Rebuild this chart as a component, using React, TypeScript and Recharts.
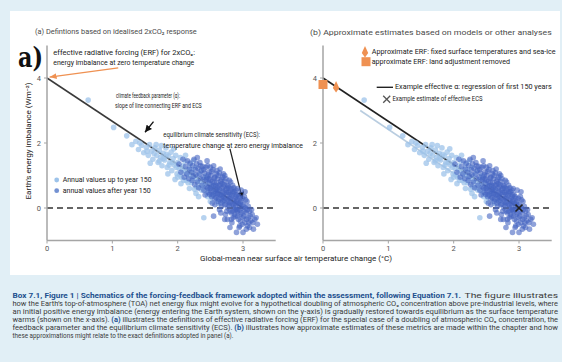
import { ScatterChart, Scatter, XAxis, YAxis, ReferenceLine } from 'recharts';

// tick labels
const xTicks = [0, 1, 2, 3];
const yTicks = [0, 2, 4];

// annual values up to year 150 (x: warming °C, y: imbalance W m-2)
const earlyYears: [number, number][] = [
  [0.63, 3.32], [1.02, 2.48], [1.22, 2.22], [1.3, 1.95], [1.36, 2.05], [1.4, 1.8], [1.45, 1.93],
  [1.48, 1.7], [1.52, 1.86], [1.55, 1.62], [1.57, 1.95], [1.6, 1.75], [1.62, 1.5], [1.65, 1.85],
  [1.68, 1.62], [1.7, 1.4], [1.72, 1.78], [1.74, 1.55], [1.76, 1.3], [1.78, 1.68], [1.8, 1.48],
  [1.82, 1.85], [1.84, 1.25], [1.86, 1.6], [1.88, 1.4], [1.9, 1.72], [1.91, 1.15], [1.93, 1.52],
  [1.95, 1.32], [1.97, 1.62], [1.99, 1.05], [2.0, 1.4], [2.02, 1.22], [2.04, 1.55], [2.06, 0.95],
  [2.08, 1.3], [2.1, 1.12], [2.11, 1.45], [2.13, 0.85], [2.15, 1.2], [2.17, 1.0], [2.19, 1.35],
  [2.21, 0.78], [2.23, 1.1], [2.25, 0.92], [2.27, 1.25], [2.29, 0.65], [2.31, 1.0], [2.33, 0.8],
  [2.35, 1.12], [2.37, 0.55], [2.39, 0.88], [2.41, 0.7], [2.43, 0.98], [2.45, 0.45], [2.47, 0.78],
  [2.49, 0.6], [2.52, 0.35], [2.54, 0.68], [2.57, 0.5], [2.6, 0.25], [2.63, 0.58], [2.66, 0.4],
  [2.7, 0.2], [2.4, -0.3], [1.58, 1.38], [2.05, 0.75], [1.85, 1.05], [1.96, 0.88], [2.18, 0.6],
  [2.28, 0.45], [2.5, 0.2], [2.12, 1.62], [1.94, 1.82], [2.24, 1.45],
  [1.64, 1.68], [1.72, 1.45], [1.78, 1.52], [1.83, 1.65], [1.87, 1.32], [1.92, 1.4], [1.98, 1.25],
  [2.03, 1.02], [2.07, 1.18], [2.09, 0.85], [2.14, 1.05], [2.16, 0.78], [2.2, 1.18], [2.22, 0.95],
  [2.26, 0.58], [2.3, 0.85], [2.34, 0.62], [2.38, 0.72], [2.42, 0.55], [2.46, 0.35], [2.55, 0.42],
  [1.53, 1.75], [1.67, 1.95], [1.75, 1.92], [2.0, 0.95], [2.32, 0.35], [2.62, 0.15], [1.42, 2.0],
];

// annual values after year 150
const laterYears: [number, number][] = [
  [2.02, 1.35], [2.05, 1.1], [2.08, 1.5], [2.1, 0.95], [2.12, 1.28], [2.14, 1.05], [2.15, 1.45],
  [2.17, 0.9], [2.18, 1.2], [2.19, 1.38], [2.21, 1.1], [2.22, 0.85], [2.23, 1.3], [2.24, 0.98],
  [2.25, 1.5], [2.26, 0.72], [2.27, 1.18], [2.28, 1.02], [2.29, 1.36], [2.3, 0.8], [2.31, 1.22],
  [2.32, 0.62], [2.33, 1.05], [2.34, 1.4], [2.35, 0.9], [2.36, 1.15], [2.37, 0.7], [2.38, 1.28],
  [2.39, 0.95], [2.3, 1.55], [2.4, 0.55], [2.41, 1.08], [2.42, 0.82], [2.43, 1.25], [2.44, 0.65],
  [2.45, 0.95], [2.46, 1.3], [2.47, 0.48], [2.48, 1.1], [2.49, 0.75], [2.45, 1.45], [2.42, 0.4],
  [2.48, 0.9], [2.5, 0.6], [2.51, 1.0], [2.52, 0.35], [2.53, 0.82], [2.54, 1.18], [2.55, 0.5],
  [2.56, 0.92], [2.57, 0.28], [2.58, 0.7], [2.59, 1.05], [2.55, 1.3], [2.52, 0.65], [2.58, 0.45],
  [2.53, 0.15], [2.56, 0.78], [2.6, 0.55], [2.61, 0.9], [2.62, 0.2], [2.63, 0.7], [2.64, 1.08],
  [2.65, 0.4], [2.66, 0.82], [2.67, 0.05], [2.68, 0.6], [2.69, 0.95], [2.62, 0.45], [2.65, 1.2],
  [2.67, 0.3], [2.68, 0.75], [2.61, 0.62], [2.64, -0.05], [2.69, 0.5], [2.7, 0.35], [2.71, 0.72],
  [2.72, 0.1], [2.73, 0.55], [2.74, 0.9], [2.75, -0.1], [2.76, 0.42], [2.77, 0.68], [2.78, 0.18],
  [2.79, 0.85], [2.71, 0.25], [2.73, -0.2], [2.75, 0.6], [2.77, 0.0], [2.78, 0.48], [2.72, 1.0],
  [2.76, -0.35], [2.79, 0.3], [2.8, 0.15], [2.81, 0.55], [2.82, -0.15], [2.83, 0.38], [2.84, 0.7],
  [2.85, -0.3], [2.86, 0.22], [2.87, 0.5], [2.88, -0.05], [2.89, 0.35], [2.81, 0.8], [2.83, -0.45],
  [2.85, 0.1], [2.86, 0.62], [2.88, -0.25], [2.84, 0.45], [2.89, 0.05], [2.9, 0.2], [2.91, -0.1],
  [2.92, 0.42], [2.93, -0.35], [2.94, 0.1], [2.95, 0.3], [2.96, -0.2], [2.97, 0.55], [2.98, 0.0],
  [2.99, -0.5], [2.91, 0.6], [2.94, -0.6], [2.96, 0.15], [2.92, -0.08], [3.0, 0.1], [3.01, -0.25],
  [3.02, 0.35], [3.03, -0.45], [3.04, 0.0], [3.05, -0.15], [3.06, 0.2], [3.07, -0.55], [3.08, -0.3],
  [3.03, 0.5], [3.1, -0.1], [3.12, -0.4], [3.14, -0.2], [3.16, -0.65], [3.18, -0.35], [3.22, -0.5],
  [2.9, -0.75], [2.8, -0.6], [3.0, -0.75], [2.55, -0.25],
  [2.44, 0.88], [2.46, 0.62], [2.47, 1.02], [2.49, 0.42], [2.5, 0.85], [2.51, 0.52], [2.52, 1.12],
  [2.54, 0.4], [2.55, 0.68], [2.57, 0.95], [2.58, 0.58], [2.59, 0.32], [2.6, 0.78], [2.61, 0.42],
  [2.62, 1.0], [2.63, 0.28], [2.64, 0.55], [2.65, 0.72], [2.66, 0.15], [2.67, 0.88], [2.68, 0.4],
  [2.69, 0.22], [2.7, 0.65], [2.71, 0.45], [2.72, 0.82], [2.73, 0.3], [2.74, 0.12], [2.75, 0.48],
  [2.76, 0.7], [2.77, 0.25], [2.78, 0.62], [2.79, 0.08], [2.8, 0.42], [2.8, -0.1], [2.81, 0.3],
  [2.82, 0.6], [2.83, 0.12], [2.84, -0.1], [2.85, 0.5], [2.86, 0.0], [2.87, 0.3], [2.87, -0.2],
  [2.88, 0.15], [2.89, 0.55], [2.9, -0.05], [2.9, 0.4], [2.91, 0.25], [2.92, -0.25], [2.93, 0.15],
  [2.94, 0.35], [2.95, -0.05], [2.96, -0.4], [2.97, 0.2], [2.98, -0.15], [2.99, 0.3], [3.0, -0.3],
  [3.01, 0.05], [3.02, -0.1], [3.04, 0.25], [3.05, -0.35], [3.06, -0.05], [3.08, 0.05], [3.09, -0.45],
  [3.11, -0.25], [3.13, -0.05], [3.15, -0.45], [3.2, -0.3], [2.6, 1.15], [2.7, 1.05], [2.5, 1.25],
  [2.4, 1.18], [2.35, 1.3], [2.57, 0.1], [2.66, -0.15], [2.72, -0.35], [2.82, -0.35], [2.95, -0.55],
  [3.05, -0.65], [3.1, -0.6],
];

const toPts = (arr: [number, number][]) => arr.map(([x, y]) => ({ x, y }));
const early = toPts(earlyYears);
const later = toPts(laterYears);

// lines and arrows (data coords)
const feedbackLine = [{ x: 0, y: 4 }, { x: 3, y: 0 }];
const regressionLine = [{ x: 0.57, y: 3.0 }, { x: 2.75, y: 0.05 }];
const erfArrow = [{ x: 1.09, y: 4.31 }, { x: 0.04, y: 4.03 }];
const alphaArrow = [{ x: 1.63, y: 2.66 }, { x: 1.5, y: 2.33 }];
const ecsArrow = [{ x: 2.8, y: 1.82 }, { x: 2.99, y: 0.28 }];

// panel b markers
const ecsEstimate = [{ x: 3, y: 0 }];
const erfFixedSst = [{ x: 0.2, y: 3.72 }];
const erfLandRemoved = [{ x: 0, y: 3.8 }];

const FONT = '"Liberation Sans Narrow", Roboto, "DejaVu Sans", sans-serif';
const LIGHT = '#9dc3ea';
const DARK = '#4464c2';
const ORANGE = '#ef9152';
const AXIS = '#a5a5a5';

const dot = (color: string, op: number) => (p: any) =>
  <circle cx={p.cx} cy={p.cy} r={2.8} fill={color} fillOpacity={op} />;

const cross = (p: any) => (
  <g stroke="#222" strokeWidth={1.6}>
    <line x1={p.cx - 3.5} y1={p.cy - 3.5} x2={p.cx + 3.5} y2={p.cy + 3.5} />
    <line x1={p.cx - 3.5} y1={p.cy + 3.5} x2={p.cx + 3.5} y2={p.cy - 3.5} />
  </g>
);

const square = (p: any) => <rect x={p.cx - 4.5} y={p.cy - 4.5} width={9} height={9} fill={ORANGE} />;
const drop = (p: any) => (
  <path d={`M${p.cx},${p.cy - 6} L${p.cx + 3.2},${p.cy + 1} L${p.cx},${p.cy + 5.5} L${p.cx - 3.2},${p.cy + 1} Z`} fill={ORANGE} />
);

const arrow = (color: string, id: string) => (p: any) =>
  <line x1={p.x1} y1={p.y1} x2={p.x2} y2={p.y2} stroke={color} strokeWidth={1.3} markerEnd={`url(#${id})`} />;

const axes = () => [
  <XAxis key="x" type="number" dataKey="x" domain={[0, 3.5]} ticks={xTicks} height={20}
    axisLine={{ stroke: AXIS, strokeWidth: 1.5 }} tickLine={{ stroke: AXIS }} tickSize={3} tickMargin={2}
    tick={{ fill: '#555', fontSize: 7.5, fontFamily: FONT }} />,
  <YAxis key="y" type="number" dataKey="y" domain={[-1, 5]} ticks={yTicks} width={30}
    axisLine={{ stroke: AXIS, strokeWidth: 1.5 }} tickLine={{ stroke: AXIS }} tickSize={3} tickMargin={3}
    tick={{ fill: '#555', fontSize: 7.5, fontFamily: FONT }} />,
  <ReferenceLine key="zero" y={0} stroke="#333" strokeWidth={1.4} strokeDasharray="6 4" />,
  <Scatter key="early" data={early} shape={dot(LIGHT, 0.75)} isAnimationActive={false} />,
  <Scatter key="later" data={later} shape={dot(DARK, 0.6)} isAnimationActive={false} />,
];

type TProps = { x: number; y: number; w?: number; size?: number; fill?: string; weight?: string; family?: string; children: any; rotate?: boolean };
const T = ({ x, y, w, size = 6.8, fill = '#222', weight = 'normal', family = FONT, children, rotate }: TProps) => (
  <text x={x} y={y} fontSize={size} fill={fill} fontWeight={weight} fontFamily={family}
    dominantBaseline="central" textAnchor={rotate ? 'middle' : 'start'}
    transform={rotate ? `rotate(-90 ${x} ${y})` : undefined}
    textLength={w} lengthAdjust={w ? 'spacingAndGlyphs' : undefined}>{children}</text>
);

const caption = [
  'how the Earth\u2019s top-of-atmosphere (TOA) net energy flux might evolve for a hypothetical doubling of atmospheric CO\u2082 concentration above pre-industrial levels, where',
  'an initial positive energy imbalance (energy entering the Earth system, shown on the y-axis) is gradually restored towards equilibrium as the surface temperature',
];

export default function App() {
  return (
    <div style={{ position: 'absolute', left: 0, top: 0, width: 562, height: 362, background: '#e1eff6', overflow: 'hidden' }}>
      <svg width={0} height={0} style={{ position: 'absolute' }}>
        <defs>
          <marker id="ah-black" markerUnits="userSpaceOnUse" markerWidth={8} markerHeight={8} refX={7} refY={4} orient="auto">
            <path d="M0,0.5 L7,4 L0,7.5 Z" fill="#111" />
          </marker>
          <marker id="ah-orange" markerUnits="userSpaceOnUse" markerWidth={8} markerHeight={8} refX={7} refY={4} orient="auto">
            <path d="M0,1 L7,4 L0,7 Z" fill={ORANGE} />
          </marker>
        </defs>
      </svg>
      <div style={{ position: 'absolute', left: 10, top: 11, width: 550, height: 264, background: '#fff' }} />

      <div style={{ position: 'absolute', left: 0, top: 0 }}>
        <ScatterChart width={290} height={280} margin={{ top: 45.5, right: 14.3, bottom: 19.5, left: 17 }}>
          {axes()}
          <ReferenceLine segment={feedbackLine} stroke="#3a3a3a" strokeWidth={1.5} />
          <ReferenceLine segment={erfArrow} shape={arrow(ORANGE, 'ah-orange')} />
          <ReferenceLine segment={alphaArrow} shape={arrow('#111', 'ah-black')} />
          <ReferenceLine segment={ecsArrow} shape={arrow('#222', 'ah-black')} />
        </ScatterChart>
      </div>

      <div style={{ position: 'absolute', left: 280, top: 0 }}>
        <ScatterChart width={282} height={280} margin={{ top: 45.5, right: 10.3, bottom: 19.5, left: 13 }}>
          {axes()}
          <ReferenceLine segment={regressionLine} stroke="#b9cde0" strokeWidth={1.6} />
          <ReferenceLine segment={feedbackLine} stroke="#222" strokeWidth={1.6} />
          <Scatter data={erfLandRemoved} shape={square} isAnimationActive={false} />
          <Scatter data={erfFixedSst} shape={drop} isAnimationActive={false} />
          <Scatter data={ecsEstimate} shape={cross} isAnimationActive={false} />
        </ScatterChart>
      </div>

      <svg width={562} height={362} style={{ position: 'absolute', left: 0, top: 0, pointerEvents: 'none' }}>
        <T x={35} y={31.7} w={161.7} size={8} fill="#4a4a4a">(a) Defintions based on idealised 2xCO₂ response</T>
        <T x={310} y={32.3} w={241.7} size={8} fill="#4a4a4a">(b) Approximate estimates based on models or other analyses</T>
        <T x={18} y={57} w={25} size={27} weight="bold" family='"DejaVu Serif", "Liberation Serif", serif' fill="#111">a)</T>

        <T x={53.3} y={53.3} w={141.7}>effective radiative forcing (ERF) for 2xCO₂:</T>
        <T x={53.3} y={63.3} w={141}>energy imbalance at zero temperature change</T>
        <T x={116} y={95.7} w={64}>climate feedback parameter (α):</T>
        <T x={115} y={106} w={86.7}>slope of line connecting ERF and ECS</T>
        <T x={163.3} y={135} w={96.7}>equilibrium climate sensitivity (ECS):</T>
        <T x={163.3} y={145.7} w={139.7}>temperature change at zero energy imbalance</T>

        <circle cx={56.7} cy={180} r={2.4} fill={LIGHT} />
        <T x={62.7} y={180} w={89}>Annual values up to year 150</T>
        <circle cx={56.7} cy={190.7} r={2.4} fill="#7391d2" />
        <T x={62.7} y={190.7} w={88}>annual values after year 150</T>

        <T x={28} y={141} w={117} size={7.5} rotate>Earth’s energy imbalance (Wm⁻²)</T>
        <T x={200} y={258.5} w={192} size={7.5}>Global-mean near surface air temperature change (°C)</T>

        <path d="M365,46 L368.2,53 L365,57.5 L361.8,53 Z" fill={ORANGE} />
        <T x={371.7} y={51.7} w={184}>Approximate ERF: fixed surface temperatures and sea-ice</T>
        <rect x={361.5} y={57.2} width={9} height={9} fill={ORANGE} />
        <T x={371.7} y={61.7} w={138.3}>approximate ERF: land adjustment removed</T>
        <line x1={376.7} y1={87.3} x2={393} y2={87.3} stroke="#222" strokeWidth={1.4} />
        <T x={395} y={87.3} w={156.7}>Example effective α: regression of first 150 years</T>
        <g stroke="#555" strokeWidth={1.3}>
          <line x1={383.2} y1={95.8} x2={390.2} y2={102.8} />
          <line x1={383.2} y1={102.8} x2={390.2} y2={95.8} />
        </g>
        <T x={392.5} y={99.3} w={90}>Example estimate of effective ECS</T>

        <T x={12.5} y={296.3} w={448.5} size={6.8} weight="bold" fill="#1d4f8e">Box 7.1, Figure 1 | Schematics of the forcing-feedback framework adopted within the assessment, following Equation 7.1.</T>
        <T x={464.5} y={296.3} w={93.5} size={6.8} fill="#3a3a3a">The figure illustrates</T>
        <T x={12.5} y={304.2} w={545.5} fill="#3a3a3a">{caption[0]}</T>
        <T x={12.5} y={312.1} w={545.5} fill="#3a3a3a">{caption[1]}</T>
        <T x={12.5} y={320.1} w={545.5} fill="#3a3a3a">
          warms (shown on the x-axis). <tspan fill="#1d4f8e" fontWeight="bold">(a)</tspan> illustrates the definitions of effective radiative forcing (ERF) for the special case of a doubling of atmospheric CO₂ concentration, the
        </T>
        <T x={12.5} y={328} w={545.5} fill="#3a3a3a">
          feedback parameter and the equilibrium climate sensitivity (ECS). <tspan fill="#1d4f8e" fontWeight="bold">(b)</tspan> illustrates how approximate estimates of these metrics are made within the chapter and how
        </T>
        <T x={12.5} y={335.9} w={221} fill="#3a3a3a">these approximations might relate to the exact definitions adopted in panel (a).</T>
      </svg>
    </div>
  );
}
